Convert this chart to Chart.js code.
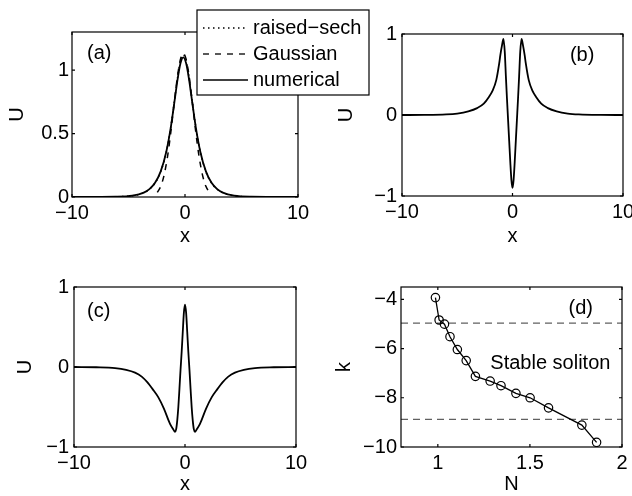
<!DOCTYPE html>
<html>
<head>
<meta charset="utf-8">
<script src="https://cdn.jsdelivr.net/npm/chart.js@4"></script>
<style>
    body { margin: 0; background: #fff; }
    #wrap { position: relative; width: 632px; height: 496px; }
    canvas { position: absolute; }
</style>
</head>
<body>
<div id="wrap">
    <canvas id="chartB" width="316" height="248" style="left:316px;top:0px"></canvas>
    <canvas id="chartC" width="316" height="248" style="left:0px;top:248px"></canvas>
    <canvas id="chartD" width="316" height="248" style="left:316px;top:248px"></canvas>
    <canvas id="chartA" width="400" height="248" style="left:0px;top:0px"></canvas>
</div>
<script>
// panel (a)
var xA = [-10, -6.15, -4.65, -3.65, -3.15, -2.65, -2.15, -1.65, -1.25, -0.95, -0.65, -0.4, -0.15, 0.1, 0.35, 0.65, 0.95, 1.35, 1.85, 2.35, 2.85, 3.35, 4.35, 5.85, 10];
var numericalA = [0, 0.002, 0.010, 0.034, 0.062, 0.112, 0.202, 0.359, 0.553, 0.739, 0.931, 1.053, 1.100, 1.053, 0.931, 0.739, 0.553, 0.359, 0.202, 0.112, 0.062, 0.034, 0.010, 0.002, 0];
var sechA = [0, 0.002, 0.010, 0.033, 0.061, 0.110, 0.200, 0.357, 0.556, 0.747, 0.945, 1.071, 1.120, 1.071, 0.945, 0.747, 0.556, 0.357, 0.200, 0.110, 0.061, 0.033, 0.010, 0.002, 0];
var xGaussA = [-2.45, -2.15, -1.85, -1.55, -1.25, -0.95, -0.65, -0.4, -0.15, 0.1, 0.35, 0.65, 0.95, 1.25, 1.55, 1.85, 2.15];
var gaussA = [0.036, 0.084, 0.172, 0.316, 0.514, 0.745, 0.960, 1.085, 1.130, 1.085, 0.960, 0.745, 0.514, 0.316, 0.172, 0.084, 0.036];
var legendA = ['raised\u2212sech', 'Gaussian', 'numerical'];

// panel (b)
var xB = [-10, -8, -6, -5, -4, -3.2, -2.6, -2.12, -1.8, -1.47, -1.2, -1.1, -0.95, -0.82, -0.7, -0.6, -0.5, -0.4, -0.3, -0.2, -0.1, 0,
          0.1, 0.2, 0.3, 0.4, 0.5, 0.6, 0.7, 0.82, 0.95, 1.1, 1.2, 1.47, 1.8, 2.12, 2.6, 3.2, 4, 5, 6, 8, 10];
var uB = [0, 0.001, 0.007, 0.018, 0.045, 0.085, 0.14, 0.226, 0.30, 0.43, 0.64, 0.74, 0.86, 0.94, 0.78, 0.48, 0.20, -0.06, -0.32, -0.58, -0.80, -0.90,
          -0.80, -0.58, -0.32, -0.06, 0.20, 0.48, 0.78, 0.94, 0.86, 0.74, 0.64, 0.43, 0.30, 0.226, 0.14, 0.085, 0.045, 0.018, 0.007, 0.001, 0];

// panel (c)
var xC = [-10, -8, -6.3, -5.3, -4.5, -3.9, -3.4, -2.9, -2.4, -1.9, -1.35, -1.05, -0.9, -0.8, -0.7, -0.6, -0.5, -0.4, -0.3, -0.2, -0.1, 0,
          0.1, 0.2, 0.3, 0.4, 0.5, 0.6, 0.7, 0.8, 0.9, 1.05, 1.35, 1.9, 2.4, 2.9, 3.4, 3.9, 4.5, 5.3, 6.3, 8, 10];
var uC = [0, -0.003, -0.013, -0.035, -0.07, -0.12, -0.19, -0.28, -0.38, -0.52, -0.71, -0.78, -0.81, -0.78, -0.67, -0.5, -0.27, -0.03, 0.19, 0.44, 0.68, 0.78,
          0.68, 0.44, 0.19, -0.03, -0.27, -0.5, -0.67, -0.78, -0.81, -0.78, -0.71, -0.52, -0.38, -0.28, -0.19, -0.12, -0.07, -0.035, -0.013, -0.003, 0];

// panel (d)
var nD = [0.987, 1.007, 1.036, 1.066, 1.106, 1.154, 1.204, 1.284, 1.343, 1.424, 1.501, 1.601, 1.782, 1.862];
var kD = [-3.93, -4.84, -5.01, -5.52, -6.04, -6.49, -7.13, -7.32, -7.51, -7.82, -8.00, -8.41, -9.11, -9.81];
var kBounds = [-4.97, -8.88];

// ticks
var ticksX = [-10, 0, 10];
var ticksUA = [0, 0.5, 1];
var ticksU = [-1, 0, 1];
var ticksN = [1, 1.5, 2];
var ticksK = [-10, -8, -6, -4];

Chart.defaults.font.family = '"Liberation Sans", Arial, sans-serif';
Chart.defaults.font.size = 20;
Chart.defaults.color = '#000';

function pairs(xs, ys) {
    return xs.map(function (x, i) { return { x: x, y: ys[i] }; });
}

function fmt(v) {
    return v < 0 ? '\u2212' + Math.abs(v) : String(v);
}

// box + inward ticks + text notes
var framePlugin = {
    id: 'frame',
    afterDatasetsDraw: function (chart, args, opts) {
        var ctx = chart.ctx, a = chart.chartArea;
        var xs = chart.scales.x, ys = chart.scales.y;
        ctx.save();
        ctx.strokeStyle = '#000';
        ctx.lineWidth = 1.2;
        ctx.strokeRect(a.left, a.top, a.right - a.left, a.bottom - a.top);
        ctx.beginPath();
        xs.ticks.forEach(function (t) {
            var px = xs.getPixelForValue(t.value);
            ctx.moveTo(px, a.bottom); ctx.lineTo(px, a.bottom - 3);
            ctx.moveTo(px, a.top); ctx.lineTo(px, a.top + 3);
        });
        ys.ticks.forEach(function (t) {
            var py = ys.getPixelForValue(t.value);
            ctx.moveTo(a.left, py); ctx.lineTo(a.left + 3, py);
            ctx.moveTo(a.right, py); ctx.lineTo(a.right - 3, py);
        });
        ctx.stroke();
        ctx.fillStyle = '#000';
        ctx.font = '20px "Liberation Sans", Arial, sans-serif';
        ctx.textAlign = 'left';
        ctx.textBaseline = 'middle';
        (opts.notes || []).forEach(function (n) {
            ctx.fillText(n.text, xs.getPixelForValue(n.x), ys.getPixelForValue(n.y));
        });
        ctx.restore();
    }
};

// legend box for panel (a)
var legendBoxPlugin = {
    id: 'legendBox',
    afterDraw: function (chart, args, opts) {
        if (!opts.box) return;
        var ctx = chart.ctx, b = opts.box;
        ctx.save();
        ctx.fillStyle = '#fff';
        ctx.fillRect(b.left, b.top, b.width, b.height);
        ctx.strokeStyle = '#000';
        ctx.lineWidth = 1.2;
        ctx.strokeRect(b.left, b.top, b.width, b.height);
        ctx.font = '20px "Liberation Sans", Arial, sans-serif';
        ctx.textAlign = 'left';
        ctx.textBaseline = 'middle';
        opts.order.forEach(function (idx, i) {
            var ds = chart.data.datasets[idx];
            var y = b.top + b.firstRow + i * b.rowGap;
            ctx.strokeStyle = ds.borderColor;
            ctx.lineWidth = 1.3;
            ctx.setLineDash(ds.borderDash || []);
            ctx.beginPath();
            ctx.moveTo(b.left + 6, y);
            ctx.lineTo(b.left + 51, y);
            ctx.stroke();
            ctx.setLineDash([]);
            ctx.fillStyle = '#000';
            ctx.fillText(ds.label, b.left + 56, y);
        });
        ctx.restore();
    }
};

function makeScales(s) {
    return {
        x: {
            type: 'linear', min: s.xMin, max: s.xMax,
            grid: { display: false, drawTicks: false },
            border: { display: false },
            afterBuildTicks: function (sc) { sc.ticks = s.xTicks.map(function (v) { return { value: v }; }); },
            afterFit: function (sc) { sc.height = s.xHeight; sc.paddingLeft = 0; sc.paddingRight = 0; },
            ticks: { padding: 4, maxRotation: 0, autoSkip: false, callback: fmt },
            title: { display: true, text: s.xTitle, padding: 0 }
        },
        y: {
            type: 'linear', min: s.yMin, max: s.yMax,
            grid: { display: false, drawTicks: false },
            border: { display: false },
            afterBuildTicks: function (sc) { sc.ticks = s.yTicks.map(function (v) { return { value: v }; }); },
            afterFit: function (sc) { sc.width = s.yWidth; },
            ticks: { padding: s.yTickPad, autoSkip: false, callback: fmt },
            title: { display: true, text: s.yTitle, padding: { top: s.yTitlePad, bottom: 0 } }
        }
    };
}

function curve(xs, ys, label, dash, width) {
    return {
        label: label,
        data: pairs(xs, ys),
        borderColor: '#000',
        borderWidth: width,
        borderDash: dash,
        pointRadius: 0,
        fill: false,
        cubicInterpolationMode: 'monotone'
    };
}

function baseOptions(pad, scales, pluginOpts) {
    var plugins = { legend: { display: false }, tooltip: { enabled: false } };
    Object.keys(pluginOpts).forEach(function (k) { plugins[k] = pluginOpts[k]; });
    return {
        responsive: false,
        animation: false,
        events: [],
        layout: { padding: pad },
        scales: scales,
        plugins: plugins
    };
}

// (a)
new Chart(document.getElementById('chartA').getContext('2d'), {
    type: 'line',
    data: {
        datasets: [
            curve(xA, numericalA, legendA[2], [], 1.8),
            curve(xGaussA, gaussA, legendA[1], [6, 6], 1.5),
            curve(xA, sechA, legendA[0], [1.5, 3.5], 1.5)
        ]
    },
    options: baseOptions({ left: 0, top: 32, right: 102, bottom: 0 },
        makeScales({ xMin: -10, xMax: 10, xTicks: ticksX, yMin: 0, yMax: 1.3, yTicks: ticksUA,
                     xTitle: 'x', yTitle: 'U', xHeight: 51, yWidth: 72, yTickPad: 3, yTitlePad: 5 }),
        {
            frame: { notes: [{ text: '(a)', x: -8.67, y: 1.134 }] },
            legendBox: { box: { left: 197, top: 10, width: 172, height: 85, firstRow: 18, rowGap: 26 }, order: [2, 1, 0] }
        }),
    plugins: [framePlugin, legendBoxPlugin]
});

// (b)
new Chart(document.getElementById('chartB').getContext('2d'), {
    type: 'line',
    data: { datasets: [curve(xB, uB, 'U', [], 1.8)] },
    options: baseOptions({ left: 0, top: 34, right: 9, bottom: 0 },
        makeScales({ xMin: -10, xMax: 10, xTicks: ticksX, yMin: -1, yMax: 1, yTicks: ticksU,
                     xTitle: 'x', yTitle: 'U', xHeight: 52, yWidth: 86, yTickPad: 5, yTitlePad: 18 }),
        { frame: { notes: [{ text: '(b)', x: 5.2, y: 0.74 }] } }),
    plugins: [framePlugin]
});

// (c)
new Chart(document.getElementById('chartC').getContext('2d'), {
    type: 'line',
    data: { datasets: [curve(xC, uC, 'U', [], 1.8)] },
    options: baseOptions({ left: 0, top: 39, right: 20, bottom: 0 },
        makeScales({ xMin: -10, xMax: 10, xTicks: ticksX, yMin: -1, yMax: 1, yTicks: ticksU,
                     xTitle: 'x', yTitle: 'U', xHeight: 49, yWidth: 74, yTickPad: 5, yTitlePad: 13 }),
        { frame: { notes: [{ text: '(c)', x: -8.83, y: 0.69 }] } }),
    plugins: [framePlugin]
});

// (d)
function boundLine(k) {
    return {
        data: [{ x: 0.8, y: k }, { x: 2, y: k }],
        borderColor: '#606060',
        borderWidth: 1.3,
        borderDash: [7, 5],
        pointRadius: 0,
        fill: false
    };
}

new Chart(document.getElementById('chartD').getContext('2d'), {
    type: 'line',
    data: {
        datasets: [
            {
                data: pairs(nD, kD),
                borderColor: '#000',
                borderWidth: 1.3,
                pointRadius: 4.2,
                pointBorderWidth: 1.2,
                pointBorderColor: '#000',
                pointBackgroundColor: 'rgba(0,0,0,0)',
                fill: false,
                tension: 0
            },
            boundLine(kBounds[0]),
            boundLine(kBounds[1])
        ]
    },
    options: baseOptions({ left: 0, top: 39, right: 10, bottom: 0 },
        makeScales({ xMin: 0.8, xMax: 2, xTicks: ticksN, yMin: -10, yMax: -3.5, yTicks: ticksK,
                     xTitle: 'N', yTitle: 'k', xHeight: 49, yWidth: 85, yTickPad: 4, yTitlePad: 16 }),
        { frame: { notes: [{ text: '(d)', x: 1.71, y: -4.36 }, { text: 'Stable soliton', x: 1.285, y: -6.62 }] } }),
    plugins: [framePlugin]
});
</script>
</body>
</html>
